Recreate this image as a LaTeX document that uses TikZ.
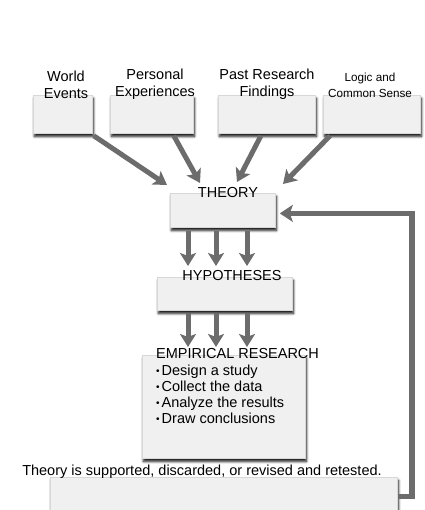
\documentclass[tikz,border=0pt]{standalone}
\usepackage{fontspec}
\setmainfont{Liberation Sans}
\usetikzlibrary{arrows.meta,shadows.blur,calc}
\definecolor{boxfill}{HTML}{F0F0F0}
\definecolor{boxline}{HTML}{D8D8D8}
\definecolor{arrgray}{HTML}{6C6C6C}
\newcommand{\bul}{{\fontsize{10}{10}\selectfont\raisebox{0.5pt}{•}}\hspace{2pt}}
\begin{document}
\begin{tikzpicture}[x=1pt,y=-1pt,
  box/.style={draw=boxline, line width=0.8pt, fill=boxfill, anchor=north west, inner sep=0pt,
    blur shadow={shadow xshift=1pt, shadow yshift=-3pt, shadow blur radius=2.5pt,
      shadow blur steps=6, shadow opacity=95}},
  lbl/.style={font=\fontsize{14.5}{17}\selectfont, align=center, inner sep=0pt},
  smalllbl/.style={font=\fontsize{11.7}{16}\selectfont, align=center, inner sep=0pt},
  item/.style={font=\fontsize{14.5}{17}\selectfont, anchor=base west, inner sep=0pt},
  fat/.style={draw=arrgray, line width=5pt,
    -{Stealth[length=13pt, width=16pt, inset=3pt]}},
  loop/.style={draw=arrgray, line width=5.5pt,
    -{Stealth[length=13pt, width=17pt, inset=3pt]}}
]
\clip (0,0) rectangle (424,510);
\useasboundingbox (0,0) rectangle (424,510);

% source boxes
\node[box, minimum width=59pt, minimum height=38pt] (we) at (33,95) {};
\node[box, minimum width=83pt, minimum height=38pt] (pe) at (110,95) {};
\node[box, minimum width=97pt, minimum height=38pt] (pr) at (218,95) {};
\node[box, minimum width=97pt, minimum height=38pt] (lc) at (323,95) {};

% main column boxes
\node[box, minimum width=105pt, minimum height=34pt] (th) at (170,193) {};
\node[box, minimum width=135pt, minimum height=33pt] (hy) at (157,277) {};
\node[box, minimum width=163pt, minimum height=103pt] (em) at (142,355) {};
\node[box, minimum width=347pt, minimum height=38pt] (bt) at (50,477) {};

% labels
\node[lbl] (weL) at (66,84.5) {World\\Events};
\node[lbl] (peL) at (155,84.5) {Personal\\Experiences};
\node[lbl] (prL) at (267,84.5) {Past Research\\Findings};
\node[smalllbl] (lcL) at (370,85) {Logic and\\Common Sense};

\node[lbl] (thL) at (228,193) {THEORY};
\node[lbl] (hyL) at (232,276) {HYPOTHESES};

\node[item] (e0) at (156,358) {EMPIRICAL RESEARCH};
\node[item] (e1) at (156,375) {\bul Design a study};
\node[item] (e2) at (156,391) {\bul Collect the data};
\node[item] (e3) at (156,407) {\bul Analyze the results};
\node[item] (e4) at (156,423) {\bul Draw conclusions};

\node[lbl] (btL) at (202,472) {Theory is supported, discarded, or revised and retested.};

% arrows from sources into theory
\coordinate (t1) at ($(th.north west)+(-3,-8)$);
\coordinate (t2) at ($(th.north west)+(30,-10)$);
\coordinate (t3) at ($(th.north west)+(67,-11)$);
\coordinate (t4) at ($(th.north west)+(113,-9)$);
\draw[fat] ($(we.south east)+(1,2)$) -- (t1);
\draw[fat] ($(pe.south east)+(-20,2)$) -- (t2);
\draw[fat] ($(pr.south)+(-6,2)$) -- (t3);
\draw[fat] ($(lc.south west)+(7,2)$) -- (t4);

% theory -> hypotheses
\foreach \i/\dx/\ex in {1/18/31, 2/46/59, 3/77/90}{
  \draw[fat] ($(th.south west)+(\dx,3)$) -- ($(hy.north west)+(\ex,-11)$);
}
% hypotheses -> empirical
\foreach \i/\dx/\ex in {1/31/46, 2/59/74, 3/90/105}{
  \draw[fat] ($(hy.south west)+(\dx,2)$) -- ($(em.north west)+(\ex,-8)$);
}

% feedback loop
\draw[loop] (bt.east) -- ++(14,0) |- ([yshift=-3pt, xshift=4pt]th.east);
\end{tikzpicture}
\end{document}
